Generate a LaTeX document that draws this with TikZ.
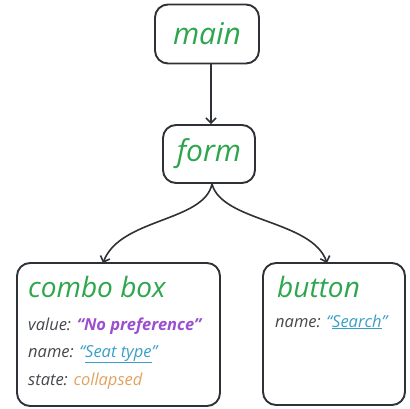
\documentclass[tikz,border=0pt]{standalone}
\usepackage{fontspec}
\setmainfont{Open Sans}
\usetikzlibrary{arrows.meta}
\definecolor{ink}{HTML}{2E3135}
\definecolor{tgreen}{HTML}{2EA64E}
\definecolor{lbl}{HTML}{45484C}
\definecolor{vpurple}{HTML}{9B4FD0}
\definecolor{vteal}{HTML}{3A9FC6}
\definecolor{vorange}{HTML}{E3A262}
\tikzset{
  box/.style={draw=ink, line width=1.9pt, rounded corners=13pt, fill=white},
  title/.style={text=tgreen, font=\fontsize{30}{34}\selectfont\itshape, inner sep=0pt},
  subtitle/.style={title, font=\fontsize{28}{32}\selectfont\itshape, anchor=base west},
  attr/.style={text=lbl, font=\fontsize{16.5}{19}\selectfont\itshape, inner sep=0pt, anchor=base west},
  link/.style={draw=ink, line width=1.6pt, -{Straight Barb[length=5pt,width=10pt,line width=1.6pt]}},
}
\begin{document}
\begin{tikzpicture}[x=1pt,y=-1pt]
  \useasboundingbox (0,0) rectangle (410,409);
  % tree nodes
  \node[box, minimum width=104pt, minimum height=59pt] (main) at (207,34) {};
  \node[title] (maint) at (main.center) {main};
  \node[box, minimum width=92pt, minimum height=58pt] (form) at (209,154) {};
  \node[title] (formt) at (form.center) {form};
  \draw[box] (17,263) rectangle (220,406);
  \coordinate (combo) at (103,263);
  \draw[box] (263,263) rectangle (405,405);
  \coordinate (button) at (327,263);
  % branch point below the form
  \coordinate (fork) at (212,184);
  % connectors
  \draw[link] (main.south -| 211,0) -- (form.north -| 211,0);
  \draw[link] (fork) .. controls (204,222) and (120,218) .. (combo);
  \draw[link] (fork) .. controls (222,222) and (312,220) .. (button);
  % combo box contents
  \node[subtitle] (ctitle) at (28,297) {combo box};
  \node[attr] (cval) at (28,330) {value: \textcolor{vpurple}{\bfseries “No preference”}};
  \node[attr] (cname) at (28,357) {name: \textcolor{vteal}{“\underline{Seat type}”}};
  \node[attr] (cstate) at (28,385) {state: \textcolor{vorange}{collapsed}};
  % button contents
  \node[subtitle] (btitle) at (277,297) {button};
  \node[attr] (bname) at (275,327) {name: \textcolor{vteal}{“\underline{Search}”}};
\end{tikzpicture}
\end{document}
